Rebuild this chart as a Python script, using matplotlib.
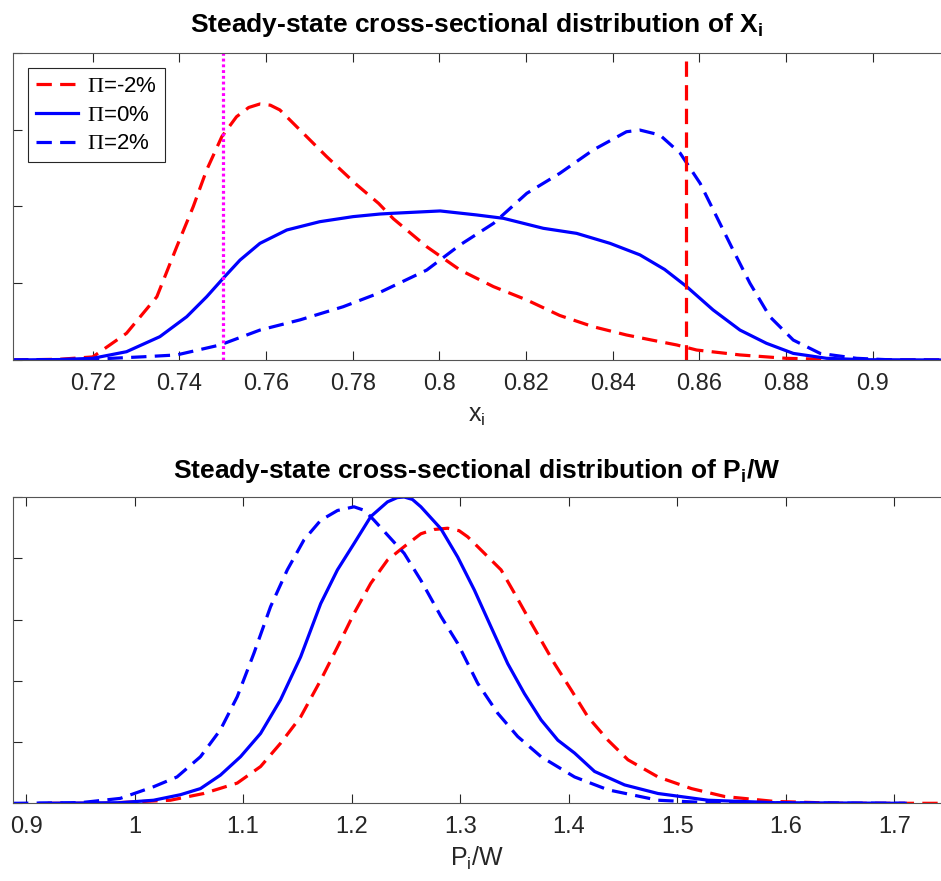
import matplotlib
matplotlib.use("Agg")
import matplotlib.pyplot as plt

plt.rcParams['font.family'] = ['Liberation Sans', 'DejaVu Sans']
plt.rcParams['mathtext.fontset'] = 'custom'
plt.rcParams['mathtext.rm'] = 'Liberation Serif'
plt.rcParams['mathtext.sf'] = 'Liberation Sans'
plt.rcParams['mathtext.it'] = 'Liberation Sans:italic'
plt.rcParams['mathtext.bf'] = 'Liberation Sans:bold'

# ---- top panel: distribution of x_i ----
x_red = [0.7016, 0.7125, 0.7200, 0.7278, 0.7348, 0.7394, 0.7432, 0.7463, 0.7498, 0.7532,
         0.7560, 0.7586, 0.7610, 0.7632, 0.7686, 0.7740, 0.7810, 0.7860, 0.7894, 0.7971,
         0.8048, 0.8125, 0.8202, 0.8278, 0.8355, 0.8432, 0.8490, 0.8548, 0.8594, 0.8694,
         0.8800, 0.8925, 0.9000, 0.9158]
y_red = [0.0, 0.05, 0.2, 1.74, 4.12, 7.38, 9.99, 12.38, 14.55, 15.85,
         16.45, 16.68, 16.6, 16.29, 14.77, 13.25, 11.4, 10.2, 9.2, 7.38,
         5.86, 4.78, 3.91, 2.9, 2.17, 1.63, 1.3, 0.98, 0.65, 0.33,
         0.11, 0.02, 0.0, 0.0]

x_zero = [0.7016, 0.7125, 0.7200, 0.7278, 0.7355, 0.7417, 0.7463, 0.7501, 0.7540, 0.7586,
          0.7648, 0.7724, 0.7801, 0.7863, 0.7894, 0.8002, 0.8086, 0.8148, 0.8240, 0.8317,
          0.8394, 0.8463, 0.8520, 0.8571, 0.8632, 0.8694, 0.8755, 0.8817, 0.8894, 0.8980,
          0.9158]
y_zero = [0.0, 0.03, 0.11, 0.54, 1.52, 2.82, 4.12, 5.32, 6.51, 7.6,
          8.47, 9.01, 9.34, 9.51, 9.56, 9.71, 9.45, 9.23, 8.58, 8.25,
          7.6, 6.85, 5.9, 4.78, 3.26, 1.95, 1.09, 0.43, 0.11, 0.02,
          0.0]

x_pos = [0.7016, 0.7200, 0.7317, 0.7394, 0.7494, 0.7586, 0.7678, 0.7778, 0.7855, 0.7971,
         0.8048, 0.8125, 0.8202, 0.8278, 0.8355, 0.8432, 0.8463, 0.8509, 0.8556, 0.8602,
         0.8640, 0.8678, 0.8717, 0.8763, 0.8817, 0.8879, 0.8963, 0.9050, 0.9158]
y_pos = [0.0, 0.05, 0.21, 0.33, 0.98, 1.95, 2.61, 3.47, 4.3, 5.86,
         7.5, 8.9, 10.86, 12.16, 13.68, 14.87, 14.98, 14.66, 13.47, 11.51,
         9.34, 7.17, 5.0, 2.82, 1.3, 0.43, 0.11, 0.0, 0.0]

x_lower = 0.75     # magenta dotted line
x_upper = 0.857    # red dashed line

top_ticks = [0.72, 0.74, 0.76, 0.78, 0.80, 0.82, 0.84, 0.86, 0.88, 0.90]
top_labels = ['0.72', '0.74', '0.76', '0.78', '0.8', '0.82', '0.84', '0.86', '0.88', '0.9']

# ---- bottom panel: distribution of P_i/W ----
p_red = [0.920, 0.971, 1.0330, 1.0637, 1.0946, 1.1161, 1.1345, 1.1530, 1.1715, 1.1869,
         1.2022, 1.2176, 1.2330, 1.2484, 1.2638, 1.2760, 1.2884, 1.2990, 1.3069, 1.3161,
         1.3377, 1.3500, 1.3623, 1.3746, 1.3869, 1.4023, 1.4177, 1.4362, 1.4546, 1.4823,
         1.5131, 1.5439, 1.5900, 1.6500, 1.7430]
d_red = [0.0, 0.0, 0.05, 0.16, 0.33, 0.60, 0.98, 1.41, 2.01, 2.55,
         3.10, 3.59, 3.97, 4.19, 4.40, 4.47, 4.49, 4.45, 4.35, 4.19,
         3.81, 3.43, 3.04, 2.66, 2.28, 1.85, 1.41, 1.03, 0.71, 0.43,
         0.24, 0.11, 0.03, 0.0, 0.0]

p_zero = [0.913, 0.9868, 1.0175, 1.0422, 1.0607, 1.0791, 1.0976, 1.1161, 1.1345, 1.1530,
          1.1715, 1.1869, 1.2022, 1.2176, 1.2330, 1.2420, 1.2484, 1.2560, 1.2638, 1.2823,
          1.2977, 1.3131, 1.3284, 1.3438, 1.3592, 1.3746, 1.3900, 1.4054, 1.4238, 1.4515,
          1.4823, 1.5285, 1.5900, 1.7100]
d_zero = [0.0, 0.01, 0.05, 0.14, 0.24, 0.46, 0.76, 1.14, 1.69, 2.39,
          3.26, 3.81, 4.24, 4.68, 4.92, 4.99, 5.0, 4.96, 4.84, 4.48,
          4.02, 3.48, 2.88, 2.28, 1.79, 1.36, 1.03, 0.82, 0.52, 0.30,
          0.16, 0.05, 0.01, 0.0]

p_pos = [0.888, 0.950, 0.9868, 1.0175, 1.0391, 1.0607, 1.0791, 1.0946, 1.1100, 1.1253,
         1.1407, 1.1561, 1.1715, 1.1870, 1.2022, 1.2120, 1.2207, 1.2484, 1.2638, 1.2823,
         1.2977, 1.3161, 1.3346, 1.3530, 1.3746, 1.4054, 1.4362, 1.4823, 1.5285, 1.7100]
d_pos = [0.0, 0.01, 0.08, 0.27, 0.43, 0.76, 1.2, 1.74, 2.45, 3.21,
         3.81, 4.30, 4.62, 4.78, 4.84, 4.78, 4.62, 4.08, 3.64, 3.05,
         2.61, 1.96, 1.47, 1.09, 0.76, 0.43, 0.22, 0.05, 0.01, 0.0]

bot_ticks = [0.9, 1.0, 1.1, 1.2, 1.3, 1.4, 1.5, 1.6, 1.7]
bot_labels = ['0.9', '1', '1.1', '1.2', '1.3', '1.4', '1.5', '1.6', '1.7']

labels = [r'$\Pi$=-2%', r'$\Pi$=0%', r'$\Pi$=2%']

RED = '#FF0000'
BLUE = '#0000FF'
LW = 2.3
DASH = (4.8, 2.6)
GREY = '#262626'

fig = plt.figure(figsize=(9.41, 8.81), dpi=100)
ax1 = fig.add_axes([13 / 941, 1 - 360 / 881, 928 / 941, 307 / 881])
ax2 = fig.add_axes([13 / 941, 1 - 803.3 / 881, 928 / 941, 306.3 / 881])


def style_axis(ax):
    ax.spines['right'].set_visible(False)
    for s in ['left', 'top', 'bottom']:
        ax.spines[s].set_color('#555555')
        ax.spines[s].set_linewidth(0.8)
    ax.tick_params(direction='in', top=True, right=False, length=6.5, width=0.8,
                   color=GREY, labelcolor=GREY, labelsize=17, pad=9)
    ax.set_yticklabels([])


ax1.plot(x_red, y_red, color=RED, lw=LW, dashes=DASH, label=labels[0])
ax1.plot(x_zero, y_zero, color=BLUE, lw=LW, label=labels[1])
ax1.plot(x_pos, y_pos, color=BLUE, lw=LW, dashes=DASH, label=labels[2])
ax1.axvline(x_lower, color='#FF00FF', lw=LW, dashes=(0.9, 0.9))
ax1.axvline(x_upper, color=RED, lw=LW, dashes=DASH)
ax1.set_xlim(0.7016, 0.9158)
ax1.set_ylim(0, 20)
ax1.set_yticks([0, 5, 10, 15, 20])
ax1.set_xticks(top_ticks)
ax1.set_xticklabels(top_labels)
style_axis(ax1)
ax1.set_xlabel(r'x$_\mathsf{i}$', fontsize=18, color=GREY, labelpad=7)
ax1.set_title(r'Steady-state cross-sectional distribution of X$_\mathbf{i}$',
              fontsize=19, fontweight='bold', pad=15)
leg = ax1.legend(loc='upper left', bbox_to_anchor=(15 / 928, 1 - 15 / 307),
                 borderaxespad=0, fontsize=16, handlelength=1.9, labelspacing=0.35,
                 handletextpad=0.4, borderpad=0.35, fancybox=False, framealpha=1)
leg.get_frame().set_edgecolor(GREY)
leg.get_frame().set_linewidth(0.8)

ax2.plot(p_red, d_red, color=RED, lw=LW, dashes=DASH)
ax2.plot(p_zero, d_zero, color=BLUE, lw=LW)
ax2.plot(p_pos, d_pos, color=BLUE, lw=LW, dashes=DASH)
ax2.set_xlim(0.888, 1.743)
ax2.set_ylim(0, 5)
ax2.set_yticks([0, 1, 2, 3, 4, 5])
ax2.set_xticks(bot_ticks)
ax2.set_xticklabels(bot_labels)
style_axis(ax2)
ax2.set_xlabel(r'P$_\mathsf{i}$/W', fontsize=18, color=GREY, labelpad=5)
ax2.set_title(r'Steady-state cross-sectional distribution of P$_\mathbf{i}$/W',
              fontsize=19, fontweight='bold', pad=14)

fig.savefig('out.png', dpi=100)
